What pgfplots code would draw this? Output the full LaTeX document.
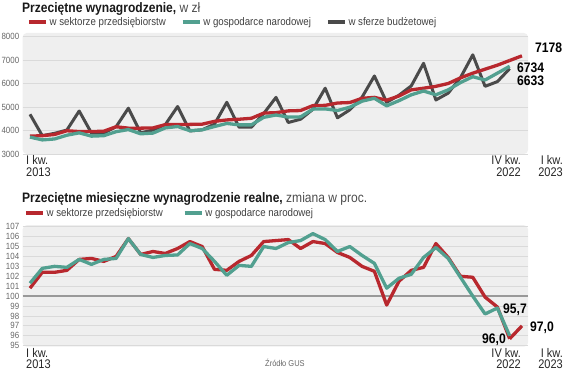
\documentclass[border=0pt]{standalone}
\usepackage{pgfplots}
\usepackage{pgfplotstable}
\pgfplotsset{compat=1.18}
\usepackage{fontspec}
\setmainfont{Liberation Sans}
\newfontfamily\cond[FakeStretch=0.88]{Liberation Sans}
\definecolor{cred}{HTML}{B8282E}
\definecolor{cteal}{HTML}{52A090}
\definecolor{cgray}{HTML}{4A4A4A}
\definecolor{panel}{HTML}{EFEFEF}
\definecolor{gridc}{HTML}{DADADA}

\pgfplotstableread{
i red green gray
0 3760 3720 4690
1 3780 3600 3780
2 3830 3640 3880
3 3990 3800 4020
4 3955 3900 4830
5 3955 3760 3890
6 3970 3780 3890
7 4160 3950 4160
8 4100 4040 4950
9 4100 3860 3900
10 4110 3890 4020
11 4250 4110 4250
12 4250 4170 5020
13 4260 3990 3980
14 4270 4030 4030
15 4390 4170 4270
16 4450 4300 5200
17 4480 4240 4140
18 4520 4240 4140
19 4740 4560 4720
20 4760 4660 5410
21 4835 4570 4340
22 4850 4580 4480
23 5060 4910 4900
24 5070 4920 5800
25 5170 4850 4540
26 5190 4990 4880
27 5370 5250 5420
28 5410 5370 6320
29 5290 5050 5200
30 5470 5270 5500
31 5730 5520 5900
32 5800 5680 6860
33 5880 5520 5300
34 6000 5730 5590
35 6240 6040 6250
36 6440 6290 7220
37 6610 6150 5880
38 6780 6440 6080
39 6980 6734 6633
}\nominal
\pgfplotstableread{
i red
39 6980
40 7178
}\nominalend

\pgfplotstableread{
i red green
0 100.8 101.3
1 102.4 102.8
2 102.4 103.0
3 102.6 102.9
4 103.7 103.7
5 103.8 103.2
6 103.5 103.7
7 104.0 103.8
8 105.8 105.8
9 104.2 104.2
10 104.5 103.9
11 104.3 104.1
12 104.8 104.15
13 105.5 105.3
14 105.0 104.8
15 102.7 103.5
16 102.6 102.1
17 103.5 103.1
18 104.1 103.0
19 105.5 105.0
20 105.6 104.8
21 105.7 105.4
22 104.8 105.6
23 105.5 106.3
24 105.3 105.7
25 104.4 104.5
26 103.9 105.0
27 103.0 104.1
28 102.5 103.3
29 99.1 100.8
30 101.5 101.8
31 102.6 102.2
32 102.9 103.9
33 105.3 104.9
34 103.9 103.8
35 102.0 101.9
36 101.9 100.0
37 99.9 98.2
38 98.9 98.8
39 95.7 96.0
}\real
\pgfplotstableread{
i red
39 95.7
40 97.0
}\realend

\pgfplotsset{
  panelaxis/.style={
    scale only axis,
    axis line style={draw=none},
    major tick length=0pt,
    xtick=\empty,
    enlargelimits=false,
    clip=false,
    xmin=-0.593, xmax=40.49,
    ymajorgrids,
    grid style={draw=gridc, line width=0.9pt},
    axis background/.style={fill=panel, rounded corners=4pt},
    /pgf/number format/assume math mode=true,
    /pgf/number format/1000 sep={},
    yticklabel style={font=\cond\fontsize{9}{10}\selectfont, text=black!60},
    legend cell align=left,
    legend columns=3,
    legend image code/.code={\draw[##1] (0pt,0pt) -- (17pt,0pt);},
  },
}
\tikzset{xlab/.style={inner sep=0pt, text=black!85, font=\cond\fontsize{12.5}{11.2}\selectfont}}

\begin{document}
\begin{tikzpicture}[x=1pt,y=1pt]
\path[use as bounding box] (0,0) rectangle (564,370);

% ---------- top titles ----------
\node[anchor=base west, inner sep=0pt, text=black!90] at (22,357.3)
  {\cond\fontsize{13.7}{15}\selectfont\bfseries Przeciętne wynagrodzenie,\ \mdseries\color{black!70}w zł};

\begin{axis}[panelaxis,
  at={(22.7pt,216pt)}, anchor=south west,
  width=505.3pt, height=121pt,
  ymin=3000, ymax=8150,
  ytick={3000,4000,5000,6000,7000,8000},
  legend style={at={(axis description cs:0.0085,1.091)}, anchor=west,
    draw=none, fill=none, inner sep=0pt,
    font=\cond\fontsize{11}{12}\selectfont, text=black!75,
    /tikz/every even column/.append style={column sep=13pt}},
]
\addlegendimage{cred, line width=3.5pt}
\addlegendentry{w sektorze przedsiębiorstw}
\addlegendimage{cteal, line width=3.5pt}
\addlegendentry{w gospodarce narodowej}
\addlegendimage{cgray, line width=3.5pt}
\addlegendentry{w sferze budżetowej}
\addplot[cgray, line width=3pt, line join=round, forget plot] table[x=i, y=gray] {\nominal};
\addplot[cred, line width=3.3pt, line join=round, forget plot] table[x=i, y=red] {\nominal};
\addplot[cred, line width=3.3pt, line join=round, forget plot] table[x=i, y=red] {\nominalend};
\addplot[cteal, line width=3.3pt, line join=round, forget plot] table[x=i, y=green] {\nominal};
\end{axis}

% top value labels
\node[anchor=base west, inner sep=0pt] at (535,317.3) {\cond\fontsize{13.8}{15}\selectfont\bfseries 7178};
\node[anchor=base west, inner sep=0pt] at (517,297) {\cond\fontsize{13.8}{15}\selectfont\bfseries 6734};
\node[anchor=base west, inner sep=0pt] at (517,284) {\cond\fontsize{13.8}{15}\selectfont\bfseries 6633};

% top x labels
\node[xlab, anchor=north west, align=left] at (26,214.3) {I kw.\\2013};
\node[xlab, anchor=north east, align=right] at (521,214.3) {IV kw.\\2022};
\node[xlab, anchor=north east, align=right] at (563,214.3) {I kw.\\2023};

% ---------- bottom ----------
\node[anchor=base west, inner sep=0pt, text=black!90] at (22,167.3)
  {\cond\fontsize{13.7}{15}\selectfont\bfseries Przeciętne miesięczne wynagrodzenie realne,\ \mdseries\color{black!70}zmiana w proc.};

\begin{axis}[panelaxis,
  at={(22.7pt,23.3pt)}, anchor=south west,
  width=505.3pt, height=121.5pt,
  ymin=94.9, ymax=107.15,
  ytick={95,96,...,107},
  legend style={at={(axis description cs:0.0026,1.10)}, anchor=west,
    draw=none, fill=none, inner sep=0pt,
    font=\cond\fontsize{11}{12}\selectfont, text=black!75,
    /tikz/every even column/.append style={column sep=18pt}},
]
\addlegendimage{cred, line width=3.5pt}
\addlegendentry{w sektorze przedsiębiorstw}
\addlegendimage{cteal, line width=3.5pt}
\addlegendentry{w gospodarce narodowej}
\addplot[black!40, line width=1.6pt, forget plot] coordinates {(-0.593,100) (40.49,100)};
\addplot[cred, line width=3.3pt, line join=round, forget plot] table[x=i, y=red] {\real};
\addplot[cred, line width=3.3pt, line join=round, forget plot] table[x=i, y=red] {\realend};
\addplot[cteal, line width=3.3pt, line join=round, forget plot] table[x=i, y=green] {\real};
\end{axis}

% bottom value labels
\node[anchor=base west, inner sep=0pt] at (503,57) {\cond\fontsize{13.8}{15}\selectfont\bfseries 95,7};
\node[anchor=base west, inner sep=0pt] at (482,26.7) {\cond\fontsize{13.8}{15}\selectfont\bfseries 96,0};
\node[anchor=base west, inner sep=0pt] at (530,38.3) {\cond\fontsize{13.8}{15}\selectfont\bfseries 97,0};

% bottom x labels
\node[xlab, anchor=north west, align=left] at (26,22) {I kw.\\2013};
\node[xlab, anchor=north east, align=right] at (521,22) {IV kw.\\2022};
\node[xlab, anchor=north east, align=right] at (563,22) {I kw.\\2023};
\node[anchor=base west, inner sep=0pt, text=black!60] at (265,4) {\cond\fontsize{8.5}{9}\selectfont Źródło GUS};
\end{tikzpicture}
\end{document}
